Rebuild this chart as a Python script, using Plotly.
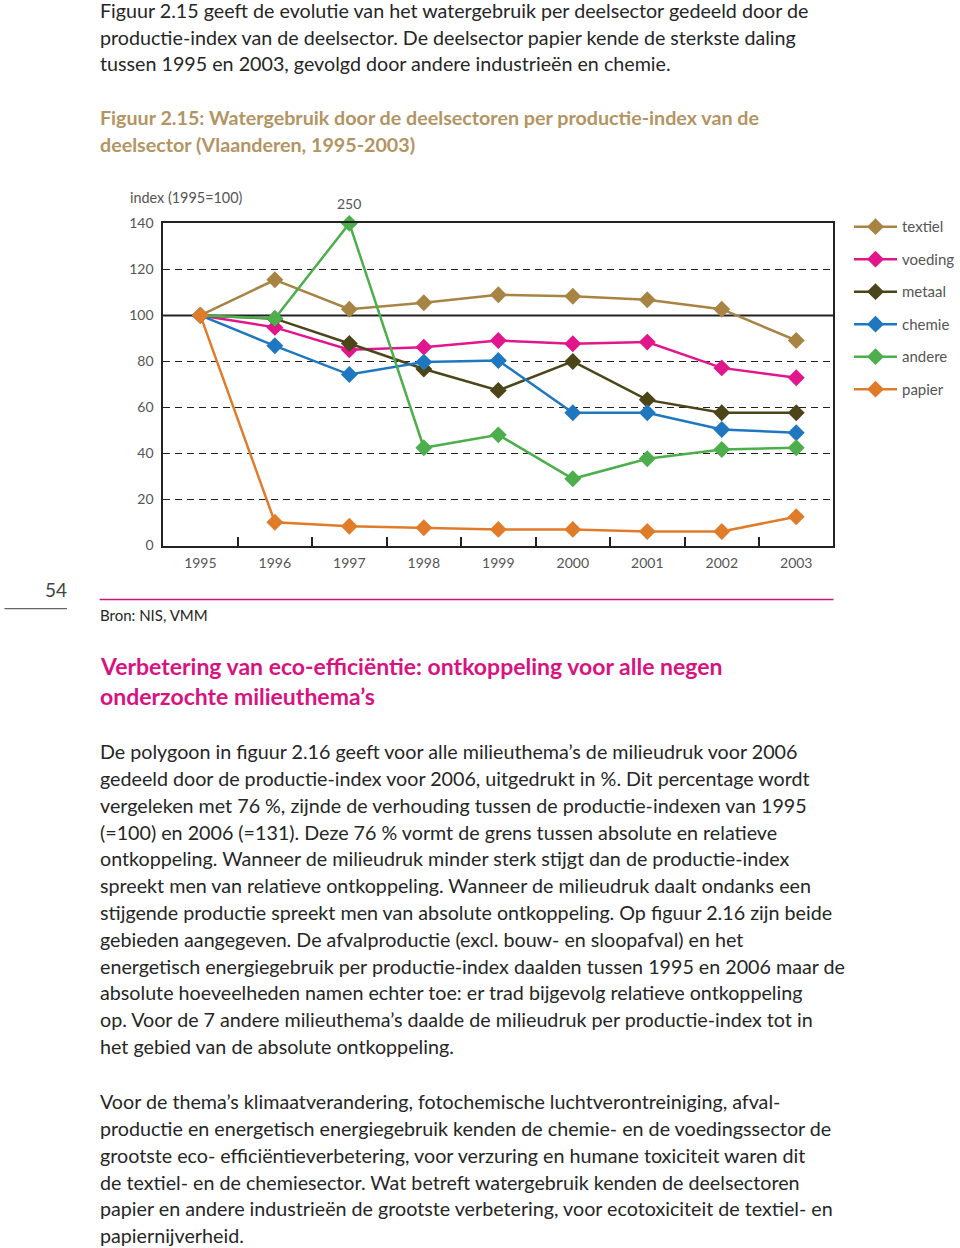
import plotly.graph_objects as go

W, H = 960, 1248

# ---------------- data ----------------
years = ["1995", "1996", "1997", "1998", "1999", "2000", "2001", "2002", "2003"]
series_names = ["textiel", "voeding", "metaal", "chemie", "andere", "papier"]
textiel = [100, 115.5, 102.7, 105.5, 109.0, 108.3, 106.8, 102.7, 89.1]
voeding = [100, 94.8, 85.1, 86.2, 89.1, 87.7, 88.4, 77.2, 72.9]
metaal = [100, 98.6, 87.8, 76.7, 67.4, 80.0, 63.3, 57.7, 57.7]
chemie = [100, 86.8, 74.3, 79.7, 80.4, 57.7, 57.7, 50.4, 49.0]
andere = [100, 98.7, 250, 42.5, 48.1, 29.0, 37.7, 41.7, 42.5]
papier = [100, 10.1, 8.4, 7.7, 7.0, 7.0, 6.1, 6.1, 12.5]
y_ticks = [0, 20, 40, 60, 80, 100, 120, 140]
Y_MAX = 140

colors = ["#A88444", "#E2168C", "#4B4519", "#1F77C0", "#4DAE4C", "#E07B2A"]

para1 = [
    "Figuur 2.15 geeft de evolutie van het watergebruik per deelsector gedeeld door de",
    "productie-index van de deelsector. De deelsector papier kende de sterkste daling",
    "tussen 1995 en 2003, gevolgd door andere industrieën en chemie.",
]
fig_title = [
    "Figuur 2.15: Watergebruik door de deelsectoren per productie-index van de",
    "deelsector (Vlaanderen, 1995-2003)",
]
section_title = [
    "Verbetering van eco-efficiëntie: ontkoppeling voor alle negen",
    "onderzochte milieuthema’s",
]
para2 = [
    "De polygoon in figuur 2.16 geeft voor alle milieuthema’s de milieudruk voor 2006",
    "gedeeld door de productie-index voor 2006, uitgedrukt in %. Dit percentage wordt",
    "vergeleken met 76 %, zijnde de verhouding tussen de productie-indexen van 1995",
    "(=100) en 2006 (=131). Deze 76 % vormt de grens tussen absolute en relatieve",
    "ontkoppeling. Wanneer de milieudruk minder sterk stijgt dan de productie-index",
    "spreekt men van relatieve ontkoppeling. Wanneer de milieudruk daalt ondanks een",
    "stijgende productie spreekt men van absolute ontkoppeling. Op figuur 2.16 zijn beide",
    "gebieden aangegeven. De afvalproductie (excl. bouw- en sloopafval) en het",
    "energetisch energiegebruik per productie-index daalden tussen 1995 en 2006 maar de",
    "absolute hoeveelheden namen echter toe: er trad bijgevolg relatieve ontkoppeling",
    "op. Voor de 7 andere milieuthema’s daalde de milieudruk per productie-index tot in",
    "het gebied van de absolute ontkoppeling.",
]
para3 = [
    "Voor de thema’s klimaatverandering, fotochemische luchtverontreiniging, afval-",
    "productie en energetisch energiegebruik kenden de chemie- en de voedingssector de",
    "grootste eco- efficiëntieverbetering, voor verzuring en humane toxiciteit waren dit",
    "de textiel- en de chemiesector. Wat betreft watergebruik kenden de deelsectoren",
    "papier en andere industrieën de grootste verbetering, voor ecotoxiciteit de textiel- en",
    "papiernijverheid.",
]
source_text = "Bron: NIS, VMM"
page_number = "54"
y_title = "index (1995=100)"

# ---------------- figure ----------------
FONT = "Lato"
TEXT = "#262626"
GREY = "#555555"
BODY = 19.7

# empirical correction for the capture's mapping
VS, VO = 0.986, 8.7
HO = 1.5


def px(x):
    return (x + HO) / W


def py(y):
    return 1 - ((y - VO) / VS) / H


fig = go.Figure()
all_series = [textiel, voeding, metaal, chemie, andere, papier]
for name, vals, col in zip(series_names, all_series, colors):
    shown = [min(v, Y_MAX) for v in vals]
    fig.add_trace(go.Scatter(
        x=years, y=shown, name=name, mode="lines+markers",
        line=dict(color=col, width=2.5),
        marker=dict(symbol="diamond", size=13, color=col),
        legendgroup=name, cliponaxis=False,
    ))

# labels for values beyond the axis
for name, vals in zip(series_names, all_series):
    for i, v in enumerate(vals):
        if v > Y_MAX:
            fig.add_annotation(x=i, y=Y_MAX, xref="x", yref="y", text=str(v),
                               showarrow=False, yshift=20 / VS,
                               font=dict(family=FONT, size=14, color=GREY))

fig.add_hline(y=100, line=dict(color="#222222", width=2), layer="below")

fig.update_layout(
    width=W, height=H,
    margin=dict(l=0, r=0, t=0, b=0),
    paper_bgcolor="white", plot_bgcolor="white",
    showlegend=True,
    legend=dict(x=px(855), y=py(210), xanchor="left", yanchor="top",
                font=dict(family=FONT, size=15, color=GREY),
                itemwidth=43,
                tracegroupgap=10, bgcolor="rgba(0,0,0,0)"),
    xaxis=dict(domain=[px(163), px(839)], type="category", range=[-0.5, 8.5],
               showline=True, linecolor="#222222", linewidth=1.5, mirror=True,
               ticks="inside", tickson="boundaries", ticklen=9, tickcolor="#222222",
               tickwidth=1.5, showgrid=False, ticklabelstandoff=4,
               tickfont=dict(family=FONT, size=14, color=GREY)),
    yaxis=dict(domain=[py(545), py(223)], range=[0, Y_MAX], tickvals=y_ticks,
               showline=True, linecolor="#222222", linewidth=1.5, mirror=True,
               ticks="", showgrid=True, gridcolor="#222222", gridwidth=1.2,
               griddash="7px,5px", zeroline=False, ticklabelstandoff=5,
               tickfont=dict(family=FONT, size=14, color=GREY)),
)


def text_line(txt, x, y, size, color, bold=False, anchor="left"):
    t = f"<b>{txt}</b>" if bold else txt
    fig.add_annotation(x=px(x), y=py(y), xref="paper", yref="paper", text=t,
                       showarrow=False, xanchor=anchor, yanchor="middle",
                       font=dict(family=FONT, size=size, color=color))


LH = 26.8
for i, t in enumerate(para1):
    text_line(t, 97, 10 + i * LH, BODY, TEXT)
for i, t in enumerate(fig_title):
    text_line(t, 97, 117 + i * LH, BODY, "#B39463", bold=True)
for i, t in enumerate(section_title):
    text_line(t, 97, 665 + i * 30, 23, "#D8137F", bold=True)
for i, t in enumerate(para2):
    text_line(t, 97, 751 + i * LH, BODY, TEXT)
for i, t in enumerate(para3):
    text_line(t, 97, 1101 + i * LH, BODY, TEXT)

text_line(y_title, 128, 197, 14.4, GREY)
text_line(source_text, 97, 614, 15, TEXT)
text_line(page_number, 68, 589, 19, "#444444", anchor="right")

# rules
fig.add_shape(type="line", xref="paper", yref="paper",
              x0=px(99), x1=px(839), y0=py(599), y1=py(599),
              line=dict(color="#C8157F", width=1.5))
fig.add_shape(type="line", xref="paper", yref="paper",
              x0=px(3), x1=px(66), y0=py(608), y1=py(608),
              line=dict(color="#666666", width=1.2))

page_js = (
    "document.documentElement.style.cssText='margin:0;padding:0;overflow:hidden;height:1248px;';"
    "document.body.style.cssText='margin:0;padding:0;overflow:hidden;height:1248px;';"
    "var g=document.getElementsByClassName('plotly-graph-div')[0];"
    "g.style.position='fixed';g.style.top='0px';g.style.left='0px';"
)
fig.write_html("out.html", config={"displayModeBar": False}, post_script=page_js)
